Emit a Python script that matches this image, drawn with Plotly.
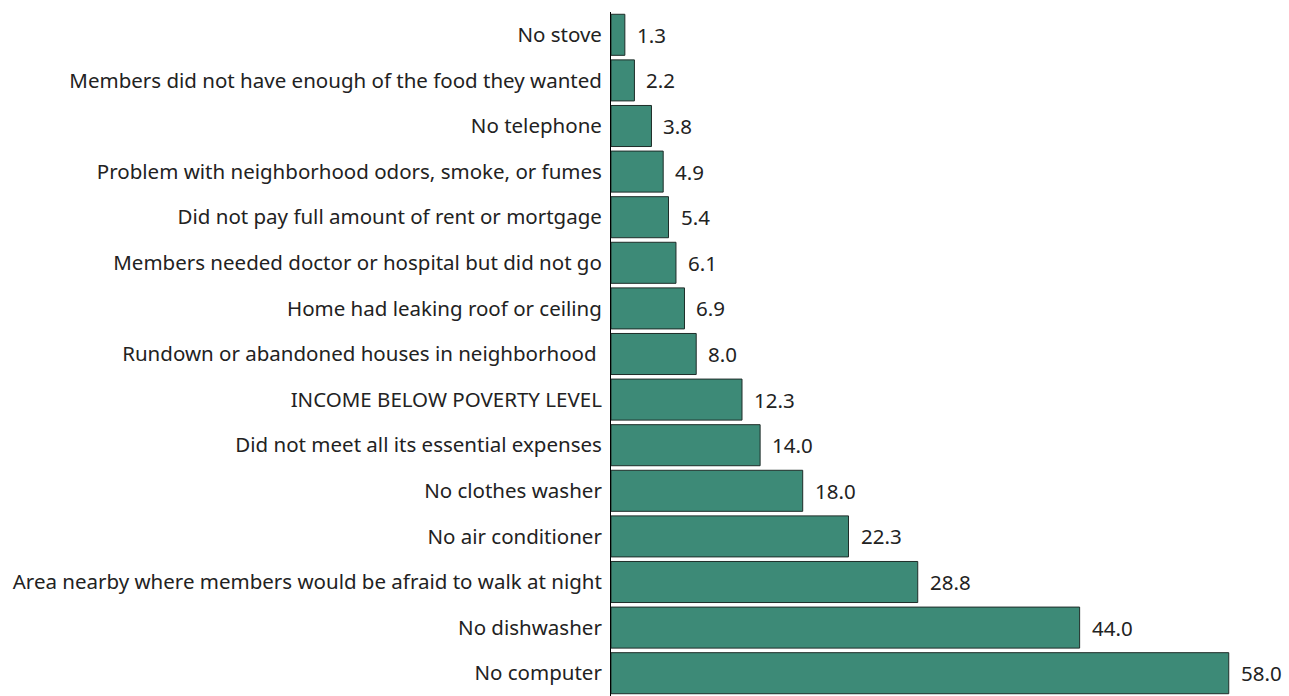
import plotly.graph_objects as go

categories = [
    "No stove",
    "Members did not have enough of the food they wanted",
    "No telephone",
    "Problem with neighborhood odors, smoke, or fumes",
    "Did not pay full amount of rent or mortgage",
    "Members needed doctor or hospital but did not go",
    "Home had leaking roof or ceiling",
    "Rundown or abandoned houses in neighborhood\u00a0",
    "INCOME BELOW POVERTY LEVEL",
    "Did not meet all its essential expenses",
    "No clothes washer",
    "No air conditioner",
    "Area nearby where members would be afraid to walk at night",
    "No dishwasher",
    "No computer",
]
values = [1.3, 2.2, 3.8, 4.9, 5.4, 6.1, 6.9, 8.0, 12.3, 14.0, 18.0, 22.3, 28.8, 44.0, 58.0]

FONT = "Noto Sans"
FS = 20.5

fig = go.Figure(go.Bar(
    x=values,
    y=categories,
    orientation="h",
    marker=dict(color="#3d8a77", line=dict(color="#1e2d29", width=1)),
    width=0.9,
    hoverinfo="x+y",
))

for v, c in zip(values, categories):
    fig.add_annotation(
        x=v, y=c, text=f"{v:.1f}", showarrow=False,
        xanchor="left", yanchor="middle", xshift=10,
        font=dict(family=FONT, size=FS, color="#222222"),
    )

fig.update_layout(
    width=1289, height=696,
    margin=dict(l=611, r=7, t=12, b=0),
    plot_bgcolor="white", paper_bgcolor="white",
    font=dict(family=FONT, size=FS, color="#222222"),
    showlegend=False,
    bargap=0.1,
)
fig.update_xaxes(range=[0, 63], visible=False, showgrid=False, zeroline=False)
fig.update_yaxes(
    autorange="reversed", showline=True, linecolor="black", linewidth=1,
    showgrid=False, ticks="", ticklabelstandoff=4,
)

fig.write_html("out.html")
